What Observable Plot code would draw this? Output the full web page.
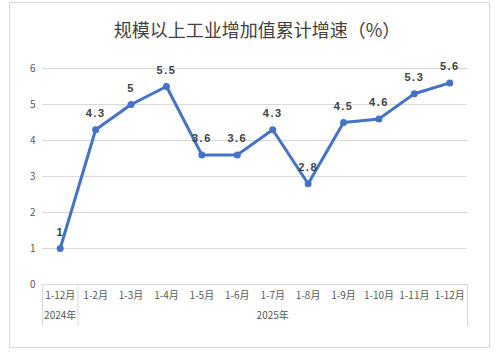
<!DOCTYPE html>
<html>
<head>
<meta charset="utf-8">
<script src="https://cdn.jsdelivr.net/npm/d3@7"></script>
<script src="https://cdn.jsdelivr.net/npm/@observablehq/plot@0.6"></script>
<style>
  body { margin: 0; background: #fff; }
  #wrap { position: relative; width: 499px; height: 355px; overflow: hidden; }
  #frame { position: absolute; left: 9px; top: 2px; width: 481px; height: 346px; border: 1px solid #d9d9d9; box-sizing: border-box; }
  #title { position: absolute; left: 0; width: 514px; top: 17px; text-align: center; font-family: "Noto Sans CJK SC", sans-serif; font-size: 18px; color: #404040; line-height: 24px; }
  #chart { position: absolute; left: 0; top: 0; }
</style>
</head>
<body>
<div id="wrap">
  <div id="frame"></div>
  <div id="title">规模以上工业增加值累计增速（%）</div>
  <div id="chart"></div>
</div>
<script>
const months = ["1-12月","1-2月","1-3月","1-4月","1-5月","1-6月","1-7月","1-8月","1-9月","1-10月","1-11月","1-12月"];
const values = [1, 4.3, 5, 5.5, 3.6, 3.6, 4.3, 2.8, 4.5, 4.6, 5.3, 5.6];
const years = ["2024年", "2025年"];
const yearSpans = [[0, 1], [1, 12]];
const yTicks = [0, 1, 2, 3, 4, 5, 6];

const data = values.map((v, i) => ({i: i + 0.5, v}));
const font = '"Noto Sans CJK SC", "Liberation Sans", sans-serif';

const chart = Plot.plot({
  width: 499,
  height: 355,
  marginLeft: 42,
  marginRight: 32,
  marginTop: 68,
  marginBottom: 71,
  style: {fontFamily: font, background: "transparent", overflow: "visible"},
  x: {domain: [0, 12], axis: null, label: null},
  y: {domain: [0, 6], axis: null, label: null},
  marks: [
    Plot.gridY(yTicks, {stroke: "#d9d9d9", strokeOpacity: 1}),
    Plot.axisY(yTicks, {label: null, tickSize: 0, tickPadding: 7, fill: "#595959", fontSize: 10, anchor: "left"}),
    Plot.axisX([...new Set(yearSpans.flat())], {label: null, anchor: "bottom", tickSize: 42, stroke: "#d9d9d9", tickFormat: () => ""}),
    Plot.axisX(data.map(d => d.i), {label: null, anchor: "bottom", tickSize: 0, tickPadding: 7, fill: "#595959", fontSize: 10, tickFormat: (d) => months[Math.floor(d)]}),
    Plot.axisX(yearSpans.map(s => (s[0] + s[1]) / 2), {label: null, anchor: "bottom", tickSize: 0, tickPadding: 27, fill: "#595959", fontSize: 10, tickFormat: (d, k) => years[k]}),
    Plot.line(data, {x: "i", y: "v", stroke: "#4472c4", strokeWidth: 3}),
    Plot.dot(data, {x: "i", y: "v", r: 3.5, fill: "#4472c4", stroke: "none"}),
    Plot.text(data, {x: "i", y: "v", text: d => String(d.v), dy: -16, fill: "#404040", fontSize: 11, fontWeight: "bold", fontFamily: '"Liberation Sans", sans-serif', className: "vlabel"})
  ]
});
document.getElementById("chart").appendChild(chart);
chart.querySelectorAll('g.vlabel text, g[aria-label="text"] text').forEach(t => t.style.letterSpacing = "1.5px");
</script>
</body>
</html>
